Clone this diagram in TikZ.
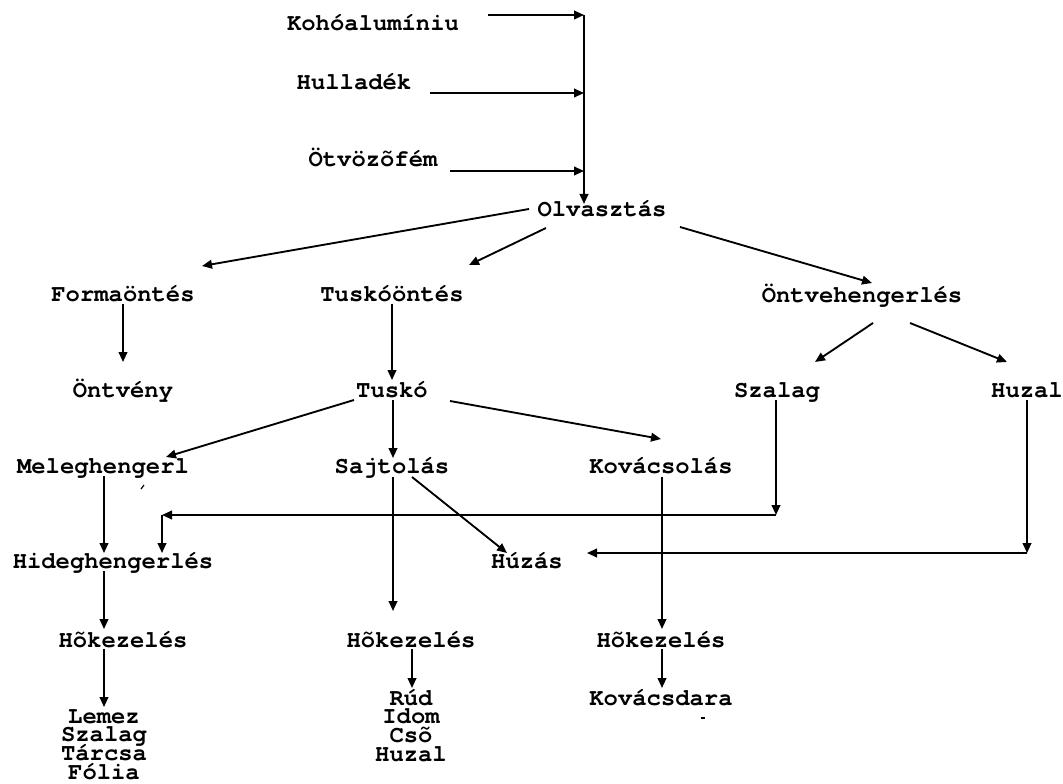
\documentclass[tikz,border=0pt]{standalone}
\usepackage{fontspec}
\setmainfont{TeX Gyre Cursor}
\usetikzlibrary{arrows.meta}
\newcommand\tightlines{\lineskiplimit=-\maxdimen\relax}
\begin{document}
\begin{tikzpicture}[x=0.75pt,y=-0.75pt,
  lbl/.style={inner sep=0pt, anchor=base,
    font=\fontsize{17.9}{14}\selectfont\bfseries\tightlines},
  stack/.style={lbl, align=center},
  arr/.style={-{Triangle[length=7.5pt,width=6.5pt]}, line width=1.4pt},
  speck/.style={line width=0.9pt}]
\useasboundingbox (0,0) rectangle (1063,784);

% raw materials and melting
\node[lbl] (koho) at (373,31)  {Kohóalumíniu};
\node[lbl] (hull) at (354,90)  {Hulladék};
\node[lbl] (otv)  at (373,167) {Ötvözõfém};
\node[lbl] (olv)  at (602,217) {Olvasztás};

% casting routes
\node[lbl] (forma)    at (123,301) {Formaöntés};
\node[lbl] (tuskoont) at (392,301) {Tuskóöntés};
\node[lbl] (ontve)    at (862,302) {Öntvehengerlés};

\node[lbl] (ontveny) at (123,397)  {Öntvény};
\node[lbl] (tusko)   at (392,397)  {Tuskó};
\node[lbl] (szalag)  at (777,397)  {Szalag};
\node[lbl] (huzal)   at (1027,397) {Huzal};

% forming
\node[lbl] (meleg)  at (103,473) {Meleghengerl};
\node[lbl] (sajt)   at (392,473) {Sajtolás};
\node[lbl] (kovacs) at (661,473) {Kovácsolás};

\node[lbl] (hideg) at (113,568) {Hideghengerlés};
\node[lbl] (huzas) at (527,568) {Húzás};

% heat treatment and products (stacks are placed by their last line)
\node[lbl] (hok1) at (123,647) {Hõkezelés};
\node[lbl] (hok2) at (411,647) {Hõkezelés};
\node[lbl] (hok3) at (661,647) {Hõkezelés};

\node[stack] (lemez)   at (104,779) {Lemez\\Szalag\\Tárcsa\\Fólia};
\node[stack] (rud)     at (411,761) {Rúd\\Idom\\Csõ\\Huzal};
\node[lbl]   (kovdara) at (661,705) {Kovácsdara};

% junction points of the bent connectors
\coordinate (top) at (584,15);
\coordinate (c1) at (776,515);
\coordinate (c2) at (162,515);
\coordinate (c3) at (1027,553);

% inputs into the melting
\draw[arr] ([shift={(115,-16)}]koho.base) -- (top);
\draw[arr] ([shift={(76,3)}]hull.base) -- ([shift={(-18,-124)}]olv.base);
\draw[arr] ([shift={(77,4)}]otv.base) -- ([shift={(-18,-46)}]olv.base);
\draw[arr] (top) -- ([shift={(-18,-13)}]olv.base);

% from melting
\draw[arr] ([shift={(-73,-8)}]olv.base) -- ([shift={(79,-35)}]forma.base);
\draw[arr] ([shift={(-56,11)}]olv.base) -- ([shift={(77,-36)}]tuskoont.base);
\draw[arr] ([shift={(78,10)}]olv.base) -- ([shift={(10,-19)}]ontve.base);

\draw[arr] ([shift={(0,3)}]forma.base) -- ([shift={(0,-35)}]ontveny.base);
\draw[arr] ([shift={(0,3)}]tuskoont.base) -- ([shift={(0,-17)}]tusko.base);
\draw[arr] ([shift={(11,21)}]ontve.base) -- ([shift={(38,-35)}]szalag.base);
\draw[arr] ([shift={(48,21)}]ontve.base) -- ([shift={(-20,-35)}]huzal.base);

% from the ingot
\draw[arr] ([shift={(-38,3)}]tusko.base) -- ([shift={(63,-16)}]meleg.base);
\draw[arr] ([shift={(1,3)}]tusko.base) -- ([shift={(1,-15)}]sajt.base);
\draw[arr] ([shift={(58,4)}]tusko.base) -- ([shift={(0,-34)}]kovacs.base);

\draw[arr] ([shift={(1,3)}]meleg.base) -- ([shift={(-9,-15)}]hideg.base);
\draw[arr] ([shift={(20,4)}]sajt.base) -- ([shift={(-20,-15)}]huzas.base);
\draw[arr] ([shift={(1,4)}]sajt.base) -- ([shift={(-18,-36)}]hok2.base);
\draw[arr] ([shift={(1,4)}]kovacs.base) -- ([shift={(1,-18)}]hok3.base);

% strip and wire fed back
\draw[arr] ([shift={(-1,3)}]szalag.base) -- (c1);
\draw[arr] (c1) -- (c2);
\draw[arr] (c2) -- ([shift={(49,-15)}]hideg.base);
\draw[arr] ([shift={(0,3)}]huzal.base) -- (c3);
\draw[arr] (c3) -- ([shift={(60,-15)}]huzas.base);

% heat treatment
\draw[arr] ([shift={(-9,3)}]hideg.base) -- ([shift={(-19,-18)}]hok1.base);
\draw[arr] ([shift={(-19,2)}]hok1.base) -- ([shift={(0,-72)}]lemez.base);
\draw[arr] ([shift={(1,2)}]hok2.base) -- ([shift={(1,-73)}]rud.base);
\draw[arr] ([shift={(1,2)}]hok3.base) -- ([shift={(1,-17)}]kovdara.base);

% clipped glyph remnants
\draw[speck] ([shift={(38,16)}]meleg.base) -- ([shift={(41,12)}]meleg.base);
\draw[speck] ([shift={(40,13)}]kovdara.base) -- ([shift={(44,13)}]kovdara.base);
\end{tikzpicture}
\end{document}
